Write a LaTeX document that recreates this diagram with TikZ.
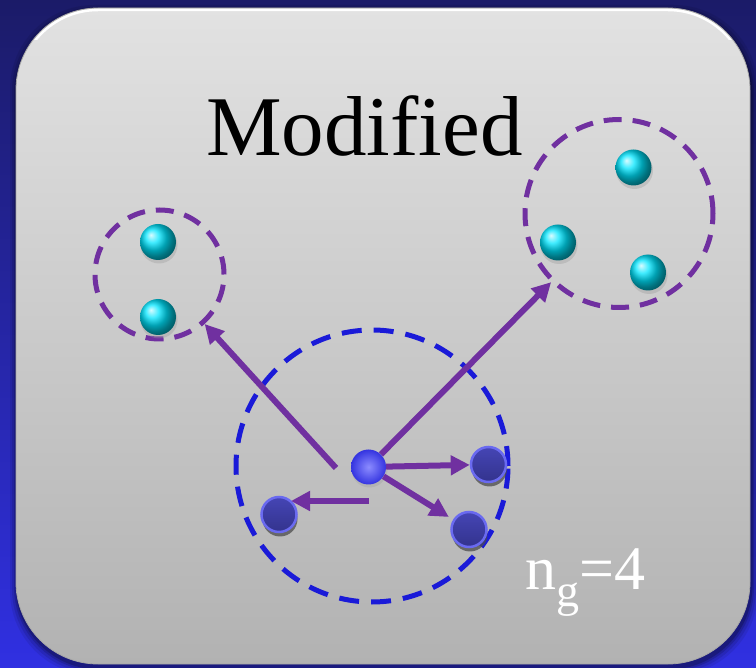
\documentclass[tikz,border=0pt]{standalone}
\usepackage{fontspec}
\setmainfont{Liberation Serif}
\usetikzlibrary{arrows.meta,shadings}
\definecolor{bgtop}{HTML}{1B1B68}
\definecolor{bgbot}{HTML}{3030E2}
\definecolor{boxtop}{HTML}{E2E2E2}
\definecolor{boxbot}{HTML}{B2B2B2}
\definecolor{purp}{HTML}{7030A0}
\definecolor{dashblue}{HTML}{1A1AD8}
\definecolor{dbfill}{HTML}{3C3CA6}
\definecolor{dbrim}{HTML}{6A6AF0}
\definecolor{cballin}{HTML}{8C8CFF}
\definecolor{cballout}{HTML}{3434E0}
\tikzset{
  pcirc/.style={circle, draw=purp, line width=5pt, dash pattern=on 18pt off 11pt, inner sep=0pt},
  bcirc/.style={circle, draw=dashblue, line width=5pt, dash pattern=on 20pt off 12pt, inner sep=0pt},
  cyanball/.style={circle, inner sep=0pt, minimum size=36pt, ball color=cyan!90!blue},
  centerball/.style={circle, inner sep=0pt, minimum size=35pt, inner color=cballin, outer color=cballout},
  darkball/.style={circle, inner sep=0pt, minimum size=35pt, top color=dbfill!80!dbrim, bottom color=dbfill!85!black, draw=dbrim, line width=2.5pt},
  arr/.style={draw=purp, line width=6pt, -{Triangle[length=19pt,width=19pt]}},
  shadowball/.style={fill=black!70, opacity=0.75}
}
\begin{document}
\begin{tikzpicture}[x=1pt,y=-1pt]
\useasboundingbox (0,0) rectangle (756,668);
% background
\shade[top color=bgtop, bottom color=bgbot] (0,0) rectangle (756,668);
% box shadow
\foreach \o/\op in {7/0.08,5/0.1,3/0.15,1.5/0.2}{
  \fill[black, opacity=\op, rounded corners=84pt] (16-\o+1,8-\o+4) rectangle (750+\o+1,664+\o+4);
}
% box
\shade[top color=boxtop, bottom color=boxbot, rounded corners=82pt] (16,8) rectangle (750,664);
\begin{scope}
\clip (0,0) rectangle (756,40);
\draw[white, line width=2.5pt, rounded corners=80pt] (18,10) rectangle (748,662);
\end{scope}
\draw[black!35, line width=0.8pt, rounded corners=82pt] (16,8) rectangle (750,664);

% title
\node[font=\fontsize{85}{88}\selectfont, inner sep=0pt] (title) at (364.5,126) {Modified};

% dashed circles
\node[pcirc, minimum size=129pt] (lc) at (159.5,274.5) {};
\node[pcirc, minimum size=188pt] (rc) at (619,213.5) {};
\node[bcirc, minimum size=272pt] (bc) at (372,466) {};

% cyan balls
\foreach \n/\x/\y in {l1/158/242, l2/158/317, r1/633.5/167.5, r2/558/242.5, r3/648/272.5}{
  \fill[black!40, opacity=0.35] (\x+1,\y+3) circle (18.5pt);
  \node[cyanball] (\n) at (\x,\y) {};
}

% dark balls with shadows
\foreach \n/\x/\y in {b1/488.5/464.5, b2/279/514.5, b3/469/529.5}{
  \fill[shadowball] (\x+1,\y+4.5) circle (17.5pt);
  \node[darkball] (\n) at (\x,\y) {};
}

% center ball
\fill[black!40, opacity=0.3] (369.5,469.5) circle (18pt);
\node[centerball] (c) at (368.5,467) {};

% arrow free ends
\coordinate (t1) at (336,468);
\coordinate (t2) at (369,501);
\coordinate (h2) at (291,501);

% arrows
\draw[arr] (t1) -- (lc);
\draw[arr] (c) -- (rc);
\draw[arr] (c) -- (b1);
\draw[arr, shorten >=5pt] (c) -- (b3);
\draw[arr] (t2) -- (h2);

% label
\node[white, font=\fontsize{62}{64}\selectfont, inner sep=0pt, anchor=base west] (ng) at (525,589) {n\raisebox{-0.28em}{\fontsize{46}{48}\selectfont g}=4};
\end{tikzpicture}
\end{document}
